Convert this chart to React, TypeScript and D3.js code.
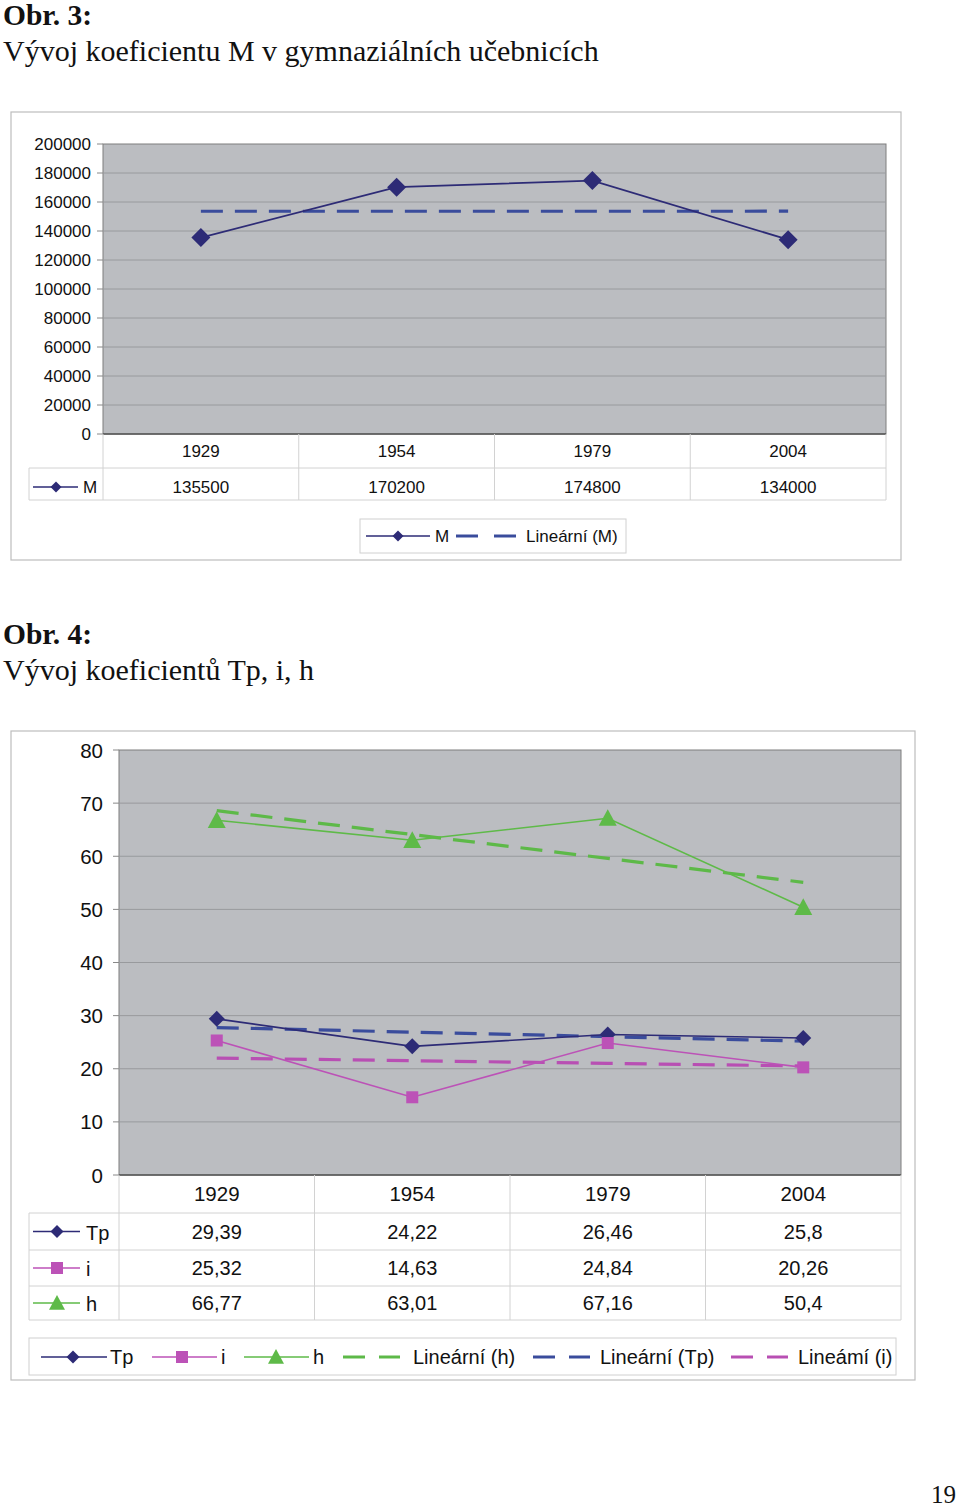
import React from "react";
import * as d3 from "d3";

const years = ["1929", "1954", "1979", "2004"];
const mValues = [135500, 170200, 174800, 134000];
const mTicks = [0, 20000, 40000, 60000, 80000, 100000, 120000, 140000, 160000, 180000, 200000];

const tpValues = [29.39, 24.22, 26.46, 25.8];
const iValues = [25.32, 14.63, 24.84, 20.26];
const hValues = [66.77, 63.01, 67.16, 50.4];
const ticks2 = [0, 10, 20, 30, 40, 50, 60, 70, 80];

const SANS = "'Liberation Sans', Arial, sans-serif";
const SERIF = "'Liberation Serif', 'Times New Roman', serif";

const NAVY = "#2D2B76";
const NAVY_DASH = "#3A4C9C";
const PINK = "#BC52B7";
const PINK_DASH = "#B84FB3";
const GREEN = "#5EBA48";
const GREEN_DASH = "#5DB948";
const PLOT_FILL = "#BBBDC1";
const GRID = "#989A9D";
const TABLE_LINE = "#D2D2D2";

function trend(vals: number[]): number[] {
  const xs = vals.map((_, i) => i + 1);
  const mx = d3.mean(xs) as number;
  const my = d3.mean(vals) as number;
  let num = 0, den = 0;
  xs.forEach((x, i) => { num += (x - mx) * (vals[i] - my); den += (x - mx) * (x - mx); });
  const b = num / den;
  return xs.map((x) => my + b * (x - mx));
}

const fmt = (v: number) => String(v).replace(".", ",");

function Diamond({ x, y, r, fill }: { x: number; y: number; r: number; fill: string }) {
  return <path d={`M${x},${y - r}L${x + r},${y}L${x},${y + r}L${x - r},${y}Z`} fill={fill} />;
}
function Square({ x, y, r, fill }: { x: number; y: number; r: number; fill: string }) {
  return <rect x={x - r} y={y - r} width={2 * r} height={2 * r} fill={fill} />;
}
function Triangle({ x, y, r, fill }: { x: number; y: number; r: number; fill: string }) {
  return <path d={`M${x},${y - r}L${x + r},${y + r * 0.85}L${x - r},${y + r * 0.85}Z`} fill={fill} />;
}

function Chart1() {
  const x = d3.scaleBand<string>().domain(years).range([103, 886]);
  const y = d3.scaleLinear().domain([0, 200000]).range([434, 144]);
  const cx = (c: string) => (x(c) as number) + x.bandwidth() / 2;
  const line = d3.line<number>().x((_, i) => cx(years[i])).y((d) => y(d));
  const tr = trend(mValues);
  const bounds = [103, ...years.map((c) => (x(c) as number) + x.bandwidth())];
  const fs = 17;
  return (
    <g>
      <rect x={11} y={112} width={890} height={448} fill="#fff" stroke="#BDBDBD" strokeWidth={1.2} />
      <rect x={103} y={144} width={783} height={290} fill={PLOT_FILL} stroke="#7E7E7E" strokeWidth={1} />
      {mTicks.map((t) => (
        <g key={t}>
          {t > 0 && t < 200000 && <line x1={103} x2={886} y1={y(t)} y2={y(t)} stroke={GRID} strokeWidth={1} />}
          <line x1={97} x2={103} y1={y(t)} y2={y(t)} stroke="#888" />
          <text x={91} y={y(t) + 6} textAnchor="end" fontFamily={SANS} fontSize={fs} fill="#111">{t}</text>
        </g>
      ))}
      <line x1={103} x2={886} y1={434} y2={434} stroke="#555" strokeWidth={1.5} />
      {bounds.map((b, i) => (
        <line key={i} x1={b} x2={b} y1={434} y2={500} stroke={TABLE_LINE} />
      ))}
      <line x1={29} x2={886} y1={468} y2={468} stroke={TABLE_LINE} />
      <line x1={29} x2={886} y1={500} y2={500} stroke={TABLE_LINE} />
      <line x1={29} x2={29} y1={468} y2={500} stroke={TABLE_LINE} />
      {years.map((c, i) => (
        <g key={c}>
          <text x={cx(c)} y={457} textAnchor="middle" fontFamily={SANS} fontSize={fs} fill="#111">{c}</text>
          <text x={cx(c)} y={493} textAnchor="middle" fontFamily={SANS} fontSize={fs} fill="#111">{mValues[i]}</text>
        </g>
      ))}
      <line x1={33} x2={78} y1={487} y2={487} stroke={NAVY} strokeWidth={1.5} />
      <Diamond x={56} y={487} r={5.5} fill={NAVY} />
      <text x={83} y={493} fontFamily={SANS} fontSize={fs} fill="#111">M</text>
      <path d={line(tr) as string} fill="none" stroke={NAVY_DASH} strokeWidth={3.2} strokeDasharray="22 12" />
      <path d={line(mValues) as string} fill="none" stroke={NAVY} strokeWidth={1.8} />
      {mValues.map((v, i) => (
        <Diamond key={i} x={cx(years[i])} y={y(v)} r={9.5} fill={NAVY} />
      ))}
      <rect x={360} y={519} width={266} height={34} fill="#fff" stroke="#D0D0D0" />
      <line x1={366} x2={430} y1={536} y2={536} stroke={NAVY} strokeWidth={1.5} />
      <Diamond x={398} y={536} r={5.5} fill={NAVY} />
      <text x={435} y={542} fontFamily={SANS} fontSize={fs} fill="#111">M</text>
      <line x1={456} x2={478} y1={536} y2={536} stroke={NAVY_DASH} strokeWidth={3} />
      <line x1={494} x2={516} y1={536} y2={536} stroke={NAVY_DASH} strokeWidth={3} />
      <text x={526} y={542} fontFamily={SANS} fontSize={fs} fill="#111">Lineární (M)</text>
    </g>
  );
}

function Chart2() {
  const x = d3.scaleBand<string>().domain(years).range([119, 901]);
  const y = d3.scaleLinear().domain([0, 80]).range([1175, 750]);
  const cx = (c: string) => (x(c) as number) + x.bandwidth() / 2;
  const line = d3.line<number>().x((_, i) => cx(years[i])).y((d) => y(d));
  const bounds = [119, ...years.map((c) => (x(c) as number) + x.bandwidth())];
  const series = [
    { name: "Tp", vals: tpValues, color: NAVY, dash: NAVY_DASH, shape: "d" },
    { name: "i", vals: iValues, color: PINK, dash: PINK_DASH, shape: "s" },
    { name: "h", vals: hValues, color: GREEN, dash: GREEN_DASH, shape: "t" },
  ];
  const marker = (shape: string, px: number, py: number, color: string, big: boolean, key?: number) => {
    if (shape === "d") return <Diamond key={key} x={px} y={py} r={big ? 8 : 6.5} fill={color} />;
    if (shape === "s") return <Square key={key} x={px} y={py} r={6} fill={color} />;
    return <Triangle key={key} x={px} y={py} r={big ? 9 : 8} fill={color} />;
  };
  const rowY = [1213, 1250, 1286, 1320];
  const fs = 20;
  return (
    <g>
      <rect x={11} y={731} width={904} height={649} fill="#fff" stroke="#BDBDBD" strokeWidth={1.2} />
      <rect x={119} y={750} width={782} height={425} fill={PLOT_FILL} stroke="#7E7E7E" strokeWidth={1} />
      {ticks2.map((t) => (
        <g key={t}>
          {t > 0 && t < 80 && <line x1={119} x2={901} y1={y(t)} y2={y(t)} stroke={GRID} strokeWidth={1} />}
          <line x1={113} x2={119} y1={y(t)} y2={y(t)} stroke="#888" />
          <text x={103} y={y(t) + 7.5} textAnchor="end" fontFamily={SANS} fontSize={20.5} fill="#111">{t}</text>
        </g>
      ))}
      <line x1={119} x2={901} y1={1175} y2={1175} stroke="#555" strokeWidth={1.5} />
      {bounds.map((b, i) => (
        <line key={i} x1={b} x2={b} y1={1175} y2={1320} stroke={TABLE_LINE} />
      ))}
      {rowY.map((ry) => (
        <line key={ry} x1={29} x2={901} y1={ry} y2={ry} stroke={TABLE_LINE} />
      ))}
      <line x1={29} x2={29} y1={1213} y2={1320} stroke={TABLE_LINE} />
      {years.map((c) => (
        <text key={c} x={cx(c)} y={1201} textAnchor="middle" fontFamily={SANS} fontSize={20.5} fill="#111">{c}</text>
      ))}
      {series.map((s, si) => {
        const my = (rowY[si] + rowY[si + 1]) / 2;
        return (
          <g key={s.name}>
            <line x1={33} x2={80} y1={my} y2={my} stroke={s.color} strokeWidth={1.5} />
            {marker(s.shape, 57, my, s.color, false)}
            <text x={86} y={my + 8} fontFamily={SANS} fontSize={fs} fill="#111">{s.name}</text>
            {s.vals.map((v, i) => (
              <text key={i} x={cx(years[i])} y={my + 7} textAnchor="middle" fontFamily={SANS} fontSize={fs} fill="#111">{fmt(v)}</text>
            ))}
          </g>
        );
      })}
      {series.map((s) => (
        <path key={s.name + "t"} d={line(trend(s.vals)) as string} fill="none" stroke={s.dash} strokeWidth={3.2} strokeDasharray="22 12" />
      ))}
      {series.map((s) => (
        <g key={s.name + "l"}>
          <path d={line(s.vals) as string} fill="none" stroke={s.color} strokeWidth={1.6} />
          {s.vals.map((v, i) => marker(s.shape, cx(years[i]), y(v), s.color, true, i))}
        </g>
      ))}
      <rect x={29} y={1338} width={867} height={37} fill="#fff" stroke="#D0D0D0" />
      <line x1={41} x2={107} y1={1357} y2={1357} stroke={NAVY} strokeWidth={1.5} />
      {marker("d", 73, 1357, NAVY, false)}
      <text x={110} y={1364} fontFamily={SANS} fontSize={fs} fill="#111">Tp</text>
      <line x1={152} x2={217} y1={1357} y2={1357} stroke={PINK} strokeWidth={1.5} />
      {marker("s", 182, 1357, PINK, false)}
      <text x={221} y={1364} fontFamily={SANS} fontSize={fs} fill="#111">i</text>
      <line x1={244} x2={309} y1={1357} y2={1357} stroke={GREEN} strokeWidth={1.5} />
      {marker("t", 276, 1357, GREEN, false)}
      <text x={313} y={1364} fontFamily={SANS} fontSize={fs} fill="#111">h</text>
      {[
        { x0: 343, tx: 413, color: GREEN_DASH, label: "Lineární (h)" },
        { x0: 533, tx: 600, color: NAVY_DASH, label: "Lineární (Tp)" },
        { x0: 731, tx: 798, color: PINK_DASH, label: "Lineámí (i)" },
      ].map((l) => (
        <g key={l.label}>
          <line x1={l.x0} x2={l.x0 + 22} y1={1357} y2={1357} stroke={l.color} strokeWidth={3} />
          <line x1={l.x0 + 36} x2={l.x0 + 57} y1={1357} y2={1357} stroke={l.color} strokeWidth={3} />
          <text x={l.tx} y={1364} fontFamily={SANS} fontSize={fs} fill="#111">{l.label}</text>
        </g>
      ))}
    </g>
  );
}

export default function App() {
  return (
    <svg width={960} height={1509} style={{ position: "absolute", left: 0, top: 0, background: "#fff" }}>
      <rect x={0} y={0} width={960} height={1509} fill="#fff" />
      <text x={3} y={25} fontFamily={SERIF} fontWeight="bold" fontSize={29.5} fill="#111">Obr. 3:</text>
      <text x={3} y={61} fontFamily={SERIF} fontSize={30} fill="#111">Vývoj koeficientu M v gymnaziálních učebnicích</text>
      <Chart1 />
      <text x={3} y={644} fontFamily={SERIF} fontWeight="bold" fontSize={29.5} fill="#111">Obr. 4:</text>
      <text x={3} y={680} fontFamily={SERIF} fontSize={30} fill="#111">Vývoj koeficientů Tp, i, h</text>
      <Chart2 />
      <text x={956} y={1503} textAnchor="end" fontFamily={SERIF} fontSize={25} fill="#111">19</text>
    </svg>
  );
}
